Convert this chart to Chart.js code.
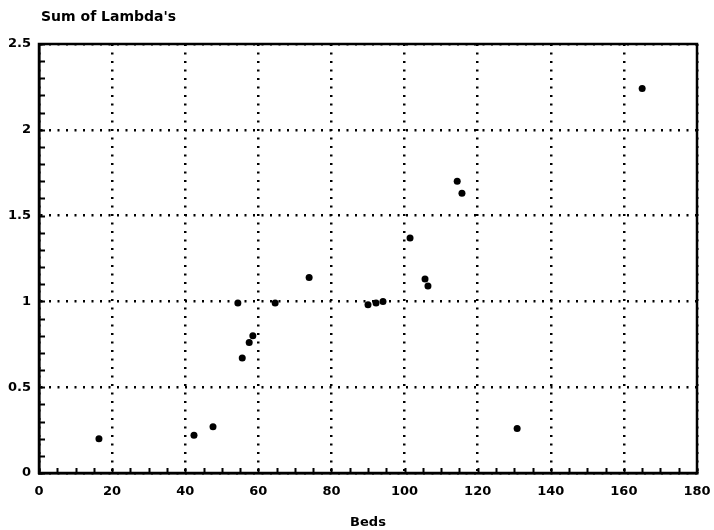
<!DOCTYPE html>
<html>
<head>
<meta charset="utf-8">
<script src="https://cdn.jsdelivr.net/npm/chart.js@4"></script>
<style>
    html, body { margin: 0; padding: 0; background: #fff; }
    #wrap { width: 714px; height: 530px; }
</style>
</head>
<body>
<div id="wrap"><canvas id="chart" width="714" height="530"></canvas></div>
<script>
// values
const beds = [16.4, 42.4, 47.6, 55.6, 54.4, 57.5, 58.5, 64.6, 73.9, 90.0, 92.2, 94.1, 101.5, 105.6, 106.4, 114.4, 115.7, 130.8, 165.0];
const lambdaSums = [0.20, 0.22, 0.27, 0.67, 0.99, 0.76, 0.80, 0.99, 1.14, 0.98, 0.99, 1.00, 1.37, 1.13, 1.09, 1.70, 1.63, 0.26, 2.24];

const xTicks = [0, 20, 40, 60, 80, 100, 120, 140, 160, 180];
const yTicks = [0, 0.5, 1, 1.5, 2, 2.5];
const xMinorStep = 5;
const yMinorStep = 0.1;

const yTitle = 'Sum of Lambda\'s';
const xTitle = 'Beds';

const FONT = '"DejaVu Sans", sans-serif';
const INK = '#000';

// frame, inward minor ticks and the horizontal y title
const framePlugin = {
    id: 'frame',
    afterDraw(chart) {
        const { ctx, chartArea: a } = chart;
        const xs = chart.scales.x;
        const ys = chart.scales.y;
        ctx.save();
        ctx.strokeStyle = INK;
        ctx.lineWidth = 2;

        ctx.beginPath();
        for (let v = xs.min; v <= xs.max + 1e-9; v += xMinorStep) {
            const px = Math.round(xs.getPixelForValue(v)) + 0.5;
            ctx.moveTo(px, a.bottom);
            ctx.lineTo(px, a.bottom - 5);
        }
        for (let v = ys.min; v <= ys.max + 1e-9; v += yMinorStep) {
            const py = Math.round(ys.getPixelForValue(v)) + 0.5;
            ctx.moveTo(a.left, py);
            ctx.lineTo(a.left + 6, py);
        }
        ctx.stroke();

        ctx.lineWidth = 2.5;
        ctx.strokeRect(a.left, a.top, a.right - a.left, a.bottom - a.top);

        ctx.fillStyle = INK;
        ctx.font = 'bold 14px ' + FONT;
        ctx.textAlign = 'left';
        ctx.textBaseline = 'middle';
        ctx.fillText(yTitle, a.left + 2, 17);
        ctx.restore();
    }
};

new Chart(document.getElementById('chart'), {
    type: 'scatter',
    data: {
        datasets: [{
            data: beds.map((x, i) => ({ x, y: lambdaSums[i] })),
            pointRadius: 3.5,
            pointHoverRadius: 3.5,
            pointBackgroundColor: INK,
            pointBorderWidth: 0,
            showLine: false
        }]
    },
    plugins: [framePlugin],
    options: {
        responsive: false,
        animation: false,
        events: [],
        layout: {
            padding: { top: 44, right: 17, left: 0, bottom: 0 }
        },
        plugins: {
            legend: { display: false },
            tooltip: { enabled: false }
        },
        scales: {
            x: {
                type: 'linear',
                min: 0,
                max: 180,
                afterFit: s => {
                    s.height = 57;
                    s.paddingLeft = 0;
                    s.paddingRight = 0;
                },
                afterBuildTicks: s => { s.ticks = xTicks.map(value => ({ value })); },
                ticks: {
                    color: INK,
                    padding: 11,
                    maxRotation: 0,
                    font: { family: FONT, size: 13, weight: 'bold' }
                },
                grid: {
                    color: INK,
                    lineWidth: 2.5,
                    drawTicks: false
                },
                border: {
                    display: true,
                    color: INK,
                    width: 2.5,
                    dash: [2, 6.5]
                },
                title: {
                    display: true,
                    text: xTitle,
                    color: INK,
                    padding: { top: 8, bottom: 0 },
                    font: { family: FONT, size: 13, weight: 'bold' }
                }
            },
            y: {
                type: 'linear',
                min: 0,
                max: 2.5,
                afterFit: s => {
                    s.width = 39;
                    s.paddingTop = 0;
                    s.paddingBottom = 0;
                },
                afterBuildTicks: s => { s.ticks = yTicks.map(value => ({ value })); },
                ticks: {
                    color: INK,
                    padding: 8,
                    callback: v => String(v),
                    font: { family: FONT, size: 13, weight: 'bold' }
                },
                grid: {
                    color: INK,
                    lineWidth: 2.5,
                    drawTicks: false
                },
                border: {
                    display: true,
                    color: INK,
                    width: 2.5,
                    dash: [2, 6.5]
                }
            }
        }
    }
});
</script>
</body>
</html>
